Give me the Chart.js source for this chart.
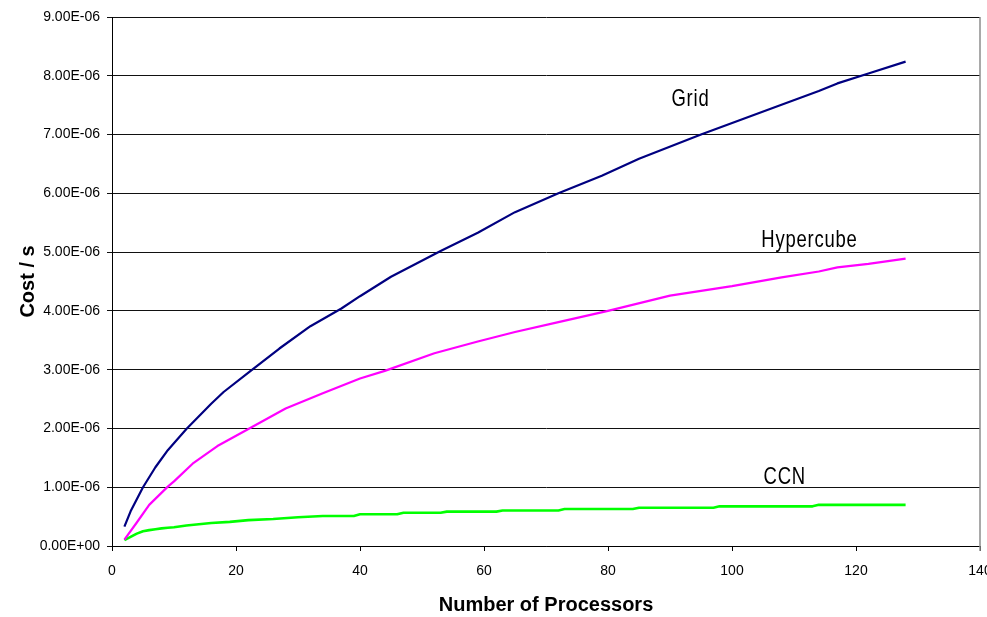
<!DOCTYPE html>
<html>
<head>
<meta charset="utf-8">
<script src="https://cdn.jsdelivr.net/npm/chart.js@4.4.1/dist/chart.umd.min.js"></script>
<style>
  html, body { margin: 0; padding: 0; background: #ffffff; overflow: hidden; }
  canvas { display: block; }
</style>
</head>
<body>
<canvas id="costChart" width="987" height="617"></canvas>
<script>
// Communication cost per topology versus number of processors
const gridProcs = [2, 3, 5, 7, 9, 12, 16, 18, 22, 27, 32, 37, 40, 45, 53, 59, 65, 72, 79, 85, 95, 107, 114, 117, 122, 128];
const gridCost  = [0.33e-6, 0.59e-6, 1.00e-6, 1.34e-6, 1.63e-6, 1.99e-6, 2.42e-6, 2.62e-6, 2.95e-6, 3.36e-6,
                   3.74e-6, 4.04e-6, 4.25e-6, 4.58e-6, 5.02e-6, 5.33e-6, 5.68e-6, 6.00e-6, 6.30e-6, 6.59e-6,
                   7.00e-6, 7.47e-6, 7.74e-6, 7.87e-6, 8.04e-6, 8.24e-6];

const hyperProcs = [2, 4, 6, 9, 10, 13, 17, 22, 28, 34, 40, 44, 52, 59, 65, 72, 80, 90, 100, 108, 114, 117, 122, 128];
const hyperCost  = [0.11e-6, 0.40e-6, 0.70e-6, 1.01e-6, 1.10e-6, 1.40e-6, 1.70e-6, 1.99e-6, 2.34e-6, 2.60e-6,
                    2.85e-6, 2.98e-6, 3.28e-6, 3.48e-6, 3.64e-6, 3.81e-6, 4.00e-6, 4.26e-6, 4.42e-6, 4.57e-6,
                    4.67e-6, 4.74e-6, 4.80e-6, 4.89e-6];

const ccnProcs = [2, 3, 4, 5, 6, 7, 8, 9, 10, 12, 14, 16, 19, 22, 26, 30, 34, 39, 40, 46, 47, 53, 54, 62, 63,
                  72, 73, 84, 85, 97, 98, 113, 114, 128];
const ccnCost  = [0.100e-6, 0.155e-6, 0.210e-6, 0.250e-6, 0.270e-6, 0.285e-6, 0.300e-6, 0.310e-6, 0.320e-6,
                  0.350e-6, 0.370e-6, 0.390e-6, 0.410e-6, 0.440e-6, 0.460e-6, 0.490e-6, 0.510e-6, 0.510e-6,
                  0.540e-6, 0.540e-6, 0.565e-6, 0.565e-6, 0.585e-6, 0.585e-6, 0.605e-6, 0.605e-6, 0.630e-6,
                  0.630e-6, 0.650e-6, 0.650e-6, 0.675e-6, 0.675e-6, 0.700e-6, 0.700e-6];

const costTickLabels = ['0.00E+00', '1.00E-06', '2.00E-06', '3.00E-06', '4.00E-06',
                        '5.00E-06', '6.00E-06', '7.00E-06', '8.00E-06', '9.00E-06'];

const seriesNames = ['Grid', 'Hypercube', 'CCN'];

// Where each curve's name is written, in axis units
const nameAnchors = [
  { procs: 93.3,  cost: 7.60e-6 },
  { procs: 112.5, cost: 5.20e-6 },
  { procs: 108.5, cost: 1.17e-6 }
];

const plainFont = "'Liberation Sans', Arial, sans-serif";

function toPoints(xs, ys) {
  return xs.map((x, i) => ({ x: x, y: ys[i] }));
}

const frameAndNames = {
  id: 'frameAndNames',
  afterDatasetsDraw(chart) {
    const { ctx, chartArea: a, scales: { x, y } } = chart;
    ctx.save();
    // right-hand frame line
    ctx.strokeStyle = '#8c8c8c';
    ctx.lineWidth = 1.5;
    ctx.beginPath();
    ctx.moveTo(a.right, a.top);
    ctx.lineTo(a.right, a.bottom + 5);
    ctx.stroke();
    // curve names, in a condensed face
    ctx.fillStyle = '#000000';
    ctx.font = "24px " + plainFont;
    ctx.textAlign = 'center';
    ctx.textBaseline = 'middle';
    try { ctx.letterSpacing = '1px'; } catch (e) {}
    nameAnchors.forEach((n, i) => {
      ctx.save();
      ctx.translate(x.getPixelForValue(n.procs), y.getPixelForValue(n.cost));
      ctx.scale(0.77, 1);
      ctx.fillText(seriesNames[i], 0, 0);
      ctx.restore();
    });
    ctx.restore();
  }
};

new Chart(document.getElementById('costChart'), {
  type: 'line',
  data: {
    datasets: [
      { label: seriesNames[0], data: toPoints(gridProcs, gridCost), borderColor: '#000080', borderWidth: 2.2 },
      { label: seriesNames[1], data: toPoints(hyperProcs, hyperCost), borderColor: '#ff00ff', borderWidth: 2.2 },
      { label: seriesNames[2], data: toPoints(ccnProcs, ccnCost), borderColor: '#00ff00', borderWidth: 2.6 }
    ]
  },
  options: {
    responsive: false,
    animation: false,
    devicePixelRatio: 1,
    layout: { padding: { top: 17, right: 7, left: 0, bottom: 0 } },
    elements: {
      point: { radius: 0, hoverRadius: 0 },
      line: { tension: 0, fill: false, borderCapStyle: 'butt', borderJoinStyle: 'round' }
    },
    plugins: {
      legend: { display: false },
      tooltip: { enabled: false },
      title: { display: false }
    },
    scales: {
      x: {
        type: 'linear',
        min: 0,
        max: 140,
        ticks: { stepSize: 20, color: '#000', font: { family: plainFont, size: 14 }, padding: 12, maxRotation: 0 },
        grid: { drawOnChartArea: false, drawTicks: true, tickLength: 5, color: '#000', lineWidth: 1 },
        border: { display: true, color: '#000', width: 1 },
        title: {
          display: true,
          text: 'Number of Processors',
          color: '#000',
          font: { family: plainFont, size: 20, weight: 'bold' },
          padding: { top: 0, bottom: 0 }
        },
        afterFit(scale) {
          scale.height = 71;
          scale.paddingLeft = 0;
          scale.paddingRight = 0;
        }
      },
      y: {
        type: 'linear',
        min: 0,
        max: 9e-6,
        ticks: {
          stepSize: 1e-6,
          color: '#000',
          font: { family: plainFont, size: 14 },
          padding: 7,
          callback: (value, index) => costTickLabels[index]
        },
        grid: { drawOnChartArea: true, drawTicks: true, tickLength: 5, color: '#111', lineWidth: 1 },
        border: { display: true, color: '#000', width: 1 },
        title: {
          display: true,
          text: 'Cost / s',
          color: '#000',
          font: { family: plainFont, size: 20, weight: 'bold' },
          padding: { top: 16, bottom: 0 }
        },
        afterFit(scale) {
          scale.width = 112;
        }
      }
    }
  },
  plugins: [frameAndNames]
});
</script>
</body>
</html>
